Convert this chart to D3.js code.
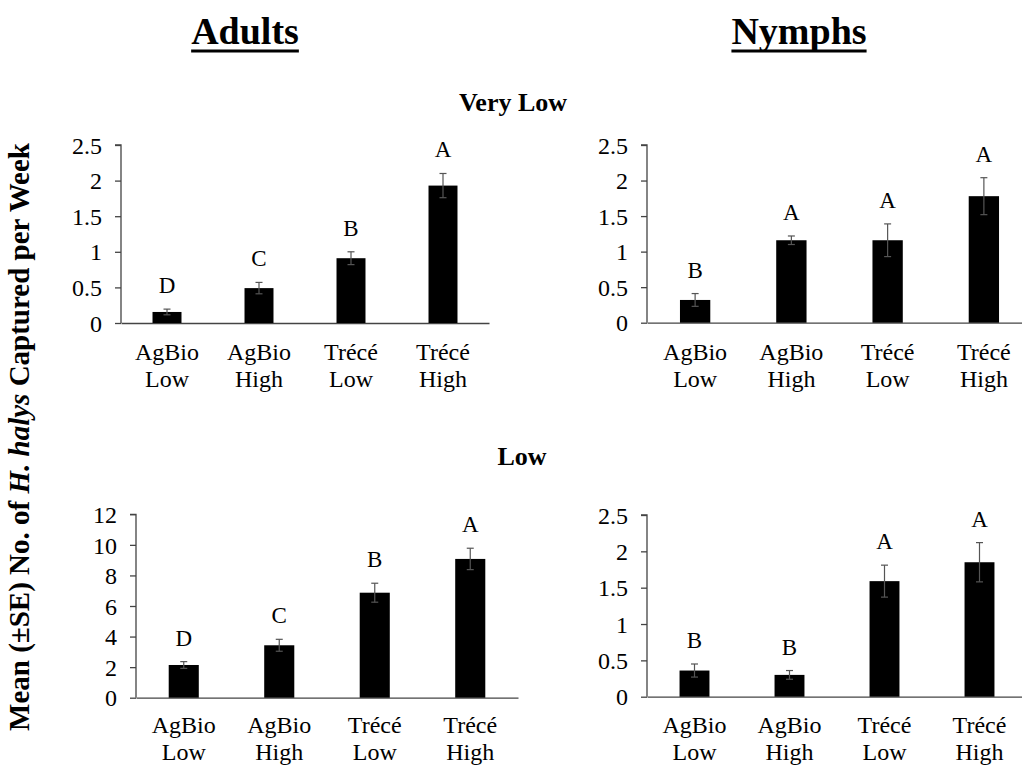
<!DOCTYPE html>
<html>
<head>
<meta charset="utf-8">
<script src="https://cdn.jsdelivr.net/npm/d3@7"></script>
<style>
  html, body { margin: 0; padding: 0; background: #fff; }
  svg text { font-family: "Liberation Serif", "Times New Roman", serif; }
</style>
</head>
<body>
<svg id="chart" width="1022" height="767"></svg>
<script>
// ---- Data ----
const categories = [["AgBio", "Low"], ["AgBio", "High"], ["Trécé", "Low"], ["Trécé", "High"]];

const adultsVeryLowMean = [0.155, 0.49, 0.91, 1.93];
const adultsVeryLowSE   = [0.04, 0.08, 0.09, 0.17];
const adultsVeryLowLetters = ["D", "C", "B", "A"];

const nymphsVeryLowMean = [0.32, 1.16, 1.16, 1.78];
const nymphsVeryLowSE   = [0.09, 0.06, 0.23, 0.26];
const nymphsVeryLowLetters = ["B", "A", "A", "A"];

const adultsLowMean = [2.14, 3.43, 6.87, 9.08];
const adultsLowSE   = [0.22, 0.39, 0.62, 0.70];
const adultsLowLetters = ["D", "C", "B", "A"];

const nymphsLowMean = [0.36, 0.30, 1.59, 1.85];
const nymphsLowSE   = [0.09, 0.06, 0.22, 0.27];
const nymphsLowLetters = ["B", "B", "A", "A"];

const yTicksSmall = [0, 0.5, 1, 1.5, 2, 2.5];
const yTicksLarge = [0, 2, 4, 6, 8, 10, 12];

const columnTitles = ["Adults", "Nymphs"];
const rowTitles = ["Very Low", "Low"];
const yAxisTitle = ["Mean (±SE) No. of ", "H. halys", " Captured per Week"];

// ---- Drawing ----
const FONT = "'Liberation Serif', 'Times New Roman', serif";
const svg = d3.select("#chart");

const panels = [
  { mean: adultsVeryLowMean, se: adultsVeryLowSE, letters: adultsVeryLowLetters, ticks: yTicksSmall, max: 2.5,
    x0: 121, x1: 489, yb: 323, yt: 145, labY: 360 },
  { mean: nymphsVeryLowMean, se: nymphsVeryLowSE, letters: nymphsVeryLowLetters, ticks: yTicksSmall, max: 2.5,
    x0: 647, x1: 1032, yb: 322.7, yt: 145, labY: 360 },
  { mean: adultsLowMean, se: adultsLowSE, letters: adultsLowLetters, ticks: yTicksLarge, max: 12,
    x0: 136, x1: 518, yb: 697.7, yt: 514.3, labY: 733 },
  { mean: nymphsLowMean, se: nymphsLowSE, letters: nymphsLowLetters, ticks: yTicksSmall, max: 2.5,
    x0: 647, x1: 1027, yb: 696.7, yt: 515, labY: 733 }
];

panels.forEach(p => {
  const x = d3.scaleBand().domain(d3.range(categories.length)).range([p.x0, p.x1])
    .paddingInner(0.685).paddingOuter(0.3425);
  const y = d3.scaleLinear().domain([0, p.max]).range([p.yb, p.yt]);
  const g = svg.append("g").attr("font-family", FONT);

  // y axis
  const yAxis = d3.axisLeft(y).tickValues(p.ticks).tickSize(6).tickPadding(13)
    .tickFormat(d => String(d));
  const ya = g.append("g").attr("transform", `translate(${p.x0},0)`).call(yAxis)
    .attr("font-family", FONT).attr("font-size", 24);
  ya.select(".domain").attr("stroke", "#444").attr("stroke-width", 1.3).attr("d", `M-6,${y(p.max)}H0V${y(0)}`);
  ya.selectAll(".tick line").attr("stroke", "#444").attr("stroke-width", 1.3);
  ya.selectAll(".tick text").attr("fill", "#000").attr("dy", "0.34em");

  // x axis line
  const xAxis = d3.axisBottom(x).tickSize(0).tickFormat("");
  const xa = g.append("g").attr("transform", `translate(0,${y(0)})`).call(xAxis);
  xa.select(".domain").attr("stroke", "#444").attr("stroke-width", 1.3);

  // bars
  g.selectAll("rect.bar").data(p.mean).join("rect")
    .attr("class", "bar")
    .attr("x", (d, i) => x(i))
    .attr("width", x.bandwidth())
    .attr("y", d => y(d))
    .attr("height", d => y(0) - y(d))
    .attr("fill", "#000");

  // error bars
  const cap = 3.5;
  const eb = g.selectAll("g.err").data(p.mean).join("g").attr("class", "err")
    .attr("stroke", "#555").attr("stroke-width", 1.2);
  eb.append("line")
    .attr("x1", (d, i) => x(i) + x.bandwidth() / 2).attr("x2", (d, i) => x(i) + x.bandwidth() / 2)
    .attr("y1", (d, i) => y(d - p.se[i])).attr("y2", (d, i) => y(d + p.se[i]));
  eb.append("line")
    .attr("x1", (d, i) => x(i) + x.bandwidth() / 2 - cap).attr("x2", (d, i) => x(i) + x.bandwidth() / 2 + cap)
    .attr("y1", (d, i) => y(d + p.se[i])).attr("y2", (d, i) => y(d + p.se[i]));
  eb.append("line")
    .attr("x1", (d, i) => x(i) + x.bandwidth() / 2 - cap).attr("x2", (d, i) => x(i) + x.bandwidth() / 2 + cap)
    .attr("y1", (d, i) => y(d - p.se[i])).attr("y2", (d, i) => y(d - p.se[i]));

  // significance letters
  g.selectAll("text.letter").data(p.letters).join("text")
    .attr("class", "letter")
    .attr("x", (d, i) => x(i) + x.bandwidth() / 2)
    .attr("y", (d, i) => y(p.mean[i] + p.se[i]) - 16)
    .attr("text-anchor", "middle").attr("font-size", 23).text(d => d);

  // category labels
  const cl = g.selectAll("text.cat").data(categories).join("text")
    .attr("class", "cat").attr("text-anchor", "middle").attr("font-size", 24)
    .attr("x", (d, i) => x(i) + x.bandwidth() / 2).attr("y", p.labY);
  cl.append("tspan").text(d => d[0]);
  cl.append("tspan").attr("x", (d, i) => x(i) + x.bandwidth() / 2).attr("dy", 27).text(d => d[1]);
});

// column titles (bold, underlined)
const colPos = [245, 799];
columnTitles.forEach((t, i) => {
  const tx = svg.append("text").attr("x", colPos[i]).attr("y", 44).attr("text-anchor", "middle")
    .attr("font-family", FONT).attr("font-size", 38).attr("font-weight", "bold").text(t);
  const w = tx.node().getComputedTextLength();
  svg.append("rect").attr("x", colPos[i] - w / 2).attr("y", 49.5).attr("width", w).attr("height", 3).attr("fill", "#000");
});

// row titles
const rowPos = [[513, 111], [522, 465]];
rowTitles.forEach((t, i) => {
  svg.append("text").attr("x", rowPos[i][0]).attr("y", rowPos[i][1]).attr("text-anchor", "middle")
    .attr("font-family", FONT).attr("font-size", 26).attr("font-weight", "bold").text(t);
});

// y axis title
const yt = svg.append("text").attr("transform", "translate(29,437) rotate(-90)")
  .attr("text-anchor", "middle").attr("font-family", FONT).attr("font-size", 29).attr("font-weight", "bold");
yt.append("tspan").text(yAxisTitle[0]);
yt.append("tspan").attr("font-style", "italic").text(yAxisTitle[1]);
yt.append("tspan").text(yAxisTitle[2]);
</script>
</body>
</html>
